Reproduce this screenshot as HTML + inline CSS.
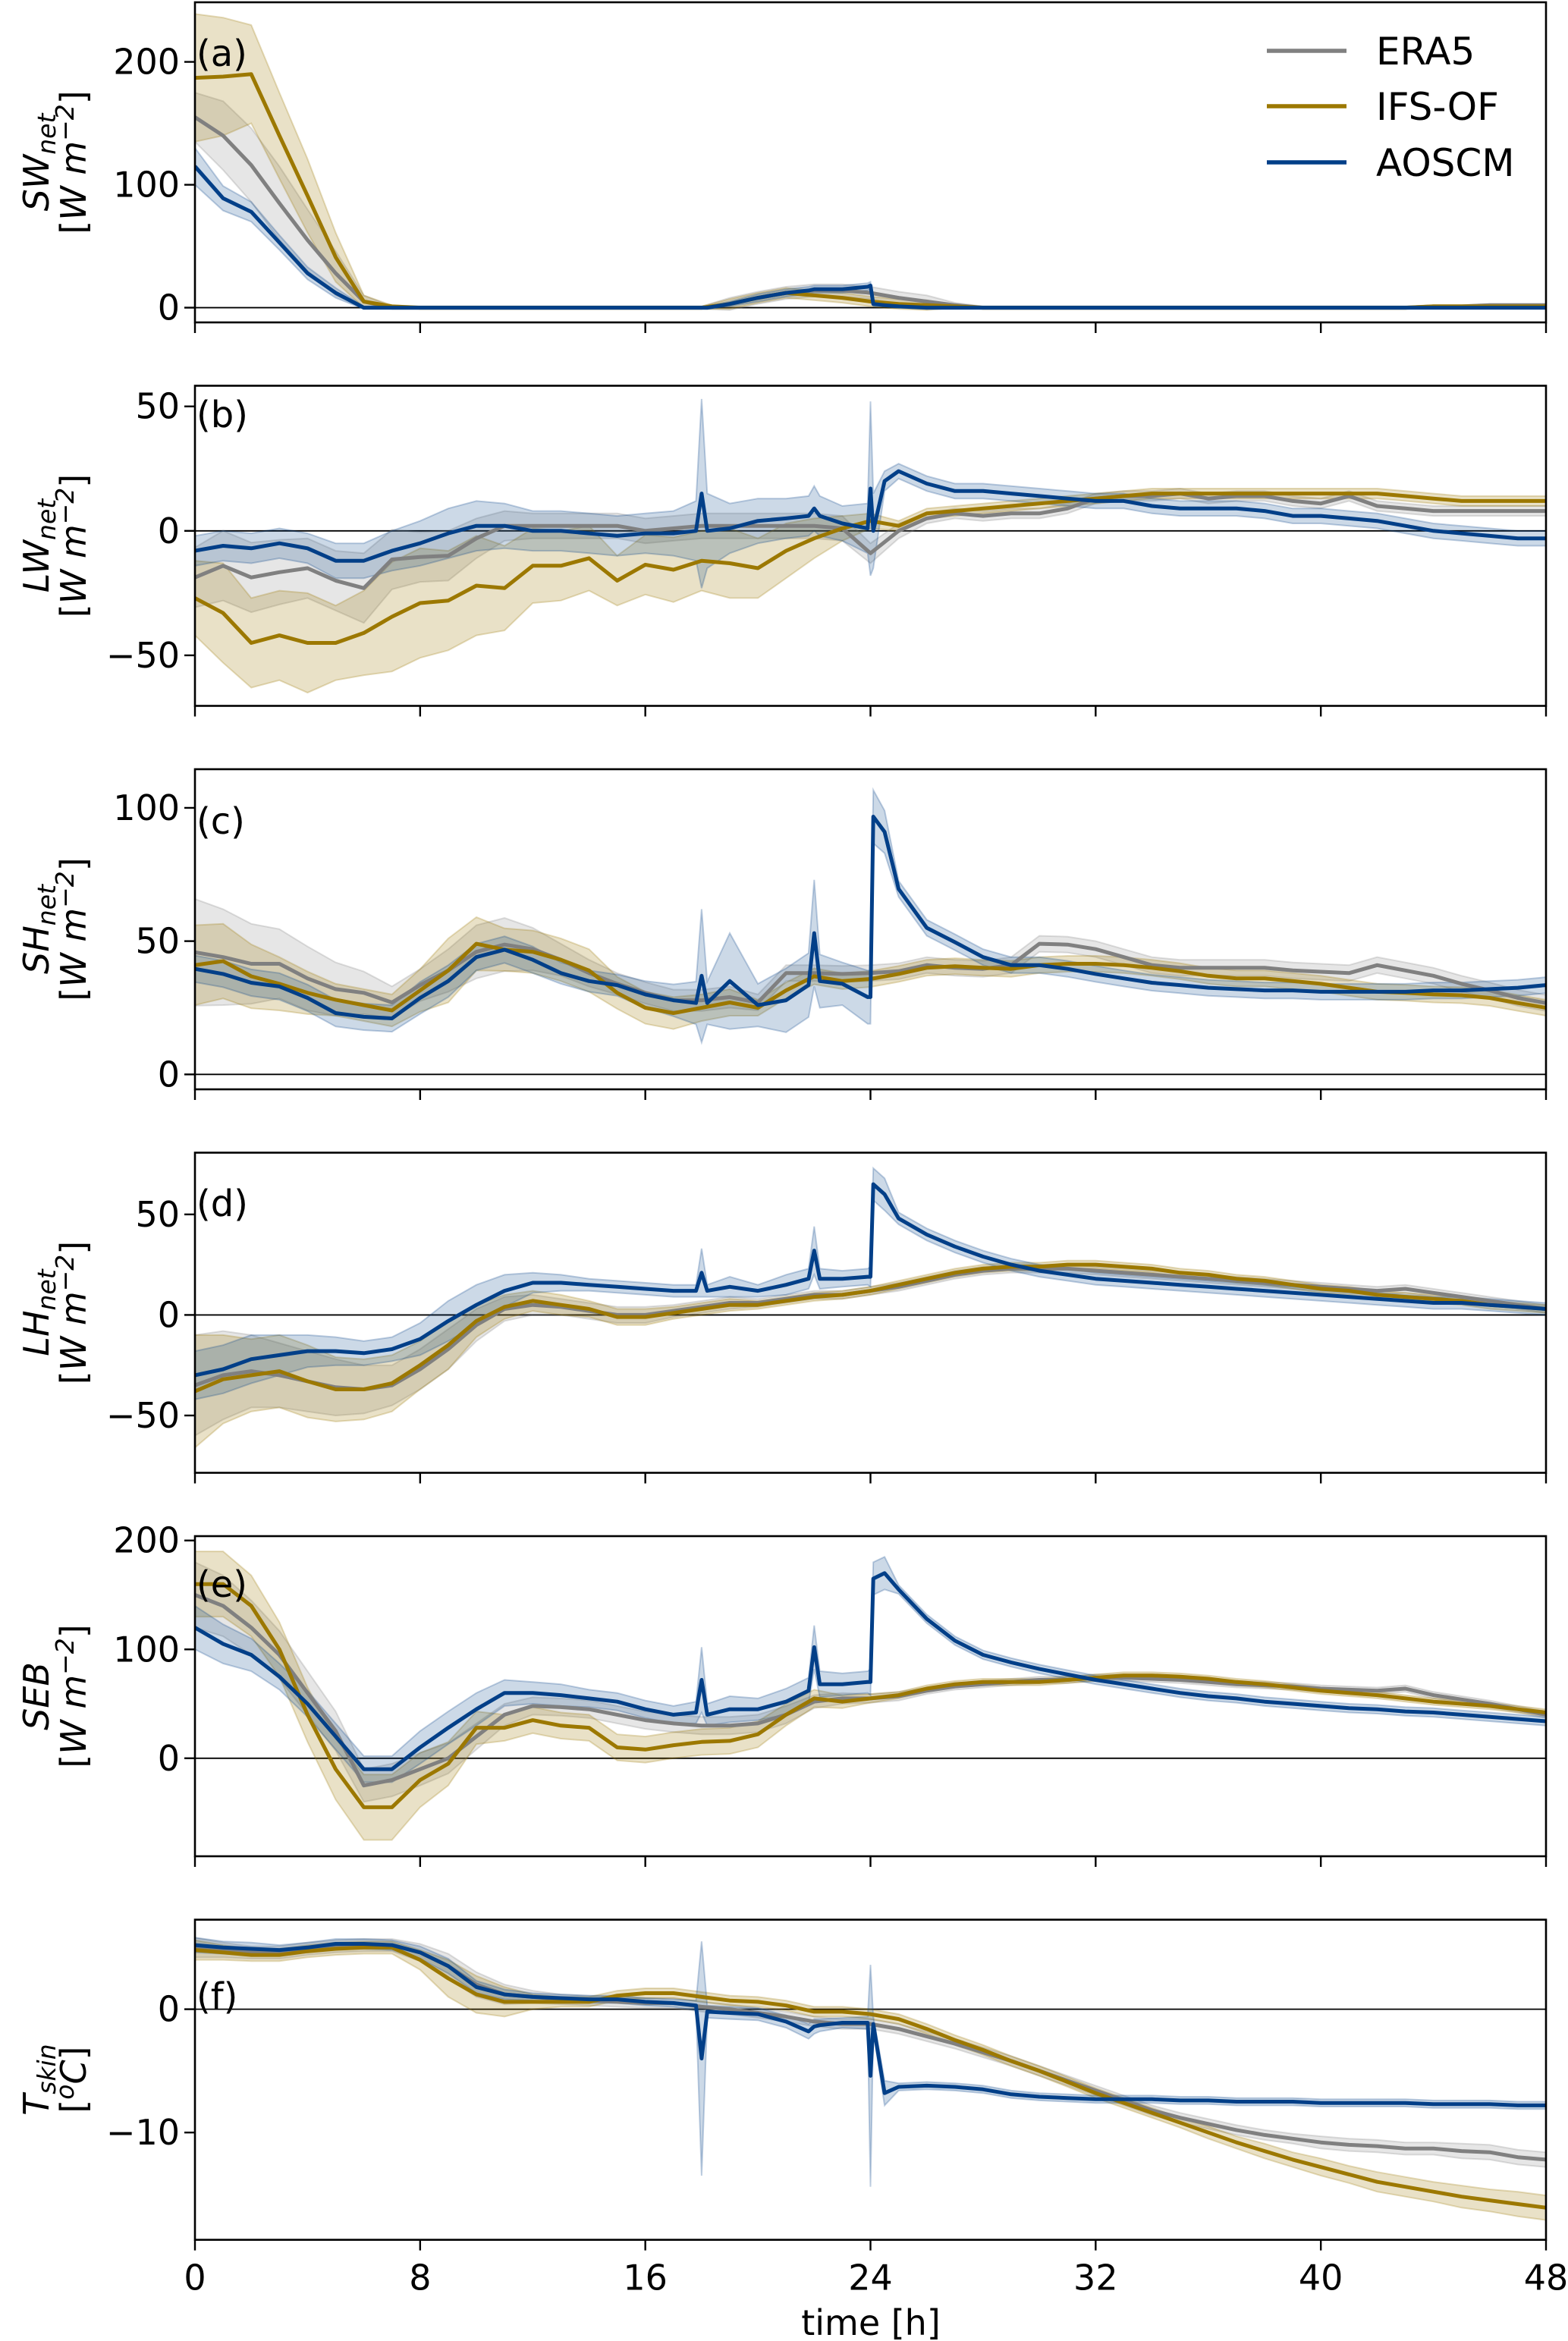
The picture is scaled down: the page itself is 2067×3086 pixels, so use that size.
<!DOCTYPE html>
<html><head><meta charset="utf-8"><style>
html,body{margin:0;padding:0;background:#fff;}
svg{display:block;font-family:"DejaVu Sans","Liberation Sans",sans-serif;}
</style></head><body>
<svg id="chart" width="2067" height="3086" viewBox="0 0 2067 3086" xmlns="http://www.w3.org/2000/svg"></svg>
<script>
const hours=[];for(let i=0;i<=48;i++)hours.push(i);
const aoTimes=[0,1,2,3,4,5,6,7,8,9,10,11,12,13,14,15,16,17,17.8,18,18.2,19,20,21,21.8,22,22.2,23,23.9,24,24.1,24.5,25,26,27,28,29,30,31,32,33,34,35,36,37,38,39,40,41,42,43,44,45,46,47,48];
const xTicks=[0,8,16,24,32,40,48];

// (a) SW
const swERA=[155,140,116,85,55,28,5,0,0,0,0,0,0,0,0,0,0,0,0,3,8,12,14,14,12,8,5,2,0,0,0,0,0,0,0,0,0,0,0,0,0,0,0,0,1,1,2,2,2];
const swERAsd=[20,28,30,30,25,18,5,1,1,1,1,1,1,1,1,1,1,1,1,5,5,5,5,5,5,5,5,2,1,1,1,1,1,1,1,1,1,1,1,1,1,1,1,1,1,1,1,1,1];
const swIFS=[187,188,190,140,91,41,5,1,0,0,0,0,0,0,0,0,0,0,0,3,8,12,10,8,5,3,2,1,0,0,0,0,0,0,0,0,0,0,0,0,0,0,0,0,1,1,1,1,1];
const swIFSsd=[52,48,40,35,30,20,5,1,1,1,1,1,1,1,1,1,1,1,1,4,4,4,4,4,4,4,4,1,1,1,1,1,1,1,1,1,1,1,1,1,1,1,1,1,1,1,1,1,1];
const swAO=[115,89,78,53,28,12,0,0,0,0,0,0,0,0,0,0,0,0,0,0,0,3,8,12,14,15,15,15,17,18,3,2,1,0,0,0,0,0,0,0,0,0,0,0,0,0,0,0,0,0,0,0,0,0,0,0];
const swAOsd=[15,10,8,6,5,4,1,1,1,1,1,1,1,1,1,1,1,1,1,1,1,2,3,3,3,3,3,3,3,3,2,1,1,1,1,1,1,1,1,1,1,1,1,1,1,1,1,1,1,1,1,1,1,1,1,1];
// (b) LW
const lwERA=[-18.7,-14,-18.7,-16.6,-15,-20,-23,-11.5,-10.5,-10,-3,2,2,2,2,2,0,1,2,2,2,2,2,1,-9,0,5,7,6,7,7,9,13,14,14,15,13,14,14,12,11,14,10,9,8,8,8,8,8];
const lwERAsd=[12,14,14,13,12,12,14,12,10,10,8,6,5,5,5,5,5,5,5,5,5,5,5,5,4,3,2,2,2,2,2,2,2,2,2,2,2,2,2,2,2,2,2,2,2,2,2,2,2];
const lwIFS=[-27,-33,-45,-42,-45,-45,-41,-34.5,-29,-28,-22,-23,-14,-14,-11,-20,-13.6,-15.6,-12,-13,-15,-8,-3,1,4,2,7,8,9,10,11,12,13,14,15,15,15,15,15,15,15,15,15,14,13,12,12,12,12];
const lwIFSsd=[15,20,18,18,20,15,17,22,22,20,20,17,15,14,13,10,12,13,12,14,12,11,8,5,3,2,2,2,2,2,2,2,2,2,2,2,2,2,2,2,2,2,2,2,2,2,2,2,2];
const lwAO=[-8,-6,-7,-5,-7,-12,-12,-8,-5,-1,2,2,0,0,-1,-2,-1,-1,0,15,0,1,4,5,6,9,6,3,1,17,0,20,24,19,16,16,15,14,13,12,12,10,9,9,9,8,6,6,5,4,2,0,-1,-2,-3,-3];
const lwAOsd=[6,6,6,6,6,7,7,8,9,10,10,9,8,8,8,8,8,9,12,38,15,10,9,8,8,9,8,7,10,35,15,4,3,3,3,3,3,3,3,3,3,3,3,3,3,3,3,3,3,3,3,3,3,3,3,3];
// (c) SH
const shERA=[45.8,44,41.5,41.5,36,32,30.6,27,33.5,39,46,48.7,47,43,38,34,30.6,27.8,27.8,29,27,38,38,37.7,38,38.7,41,40,39.6,41,49,48.7,47,44,41,40,40,40,40,39,38.5,38,41,39,37,34,31.5,28.7,26.8];
const shERAsd=[20,18,15,13,12,10,8,6,6,8,10,10,8,6,5,4,4,4,4,4,3,3,3,3,3,3,3,3,3,3,3,3,3,3,3,3,3,3,3,3,3,3,3,3,3,3,3,3,3];
const shIFS=[41,42.5,36.8,34,30.6,28,26,24,31.5,39,49,46.8,46,43,39,30.6,25,23,25,27,25,31.5,36.8,35,35.8,37.7,40,40.6,40,39.6,41,41.5,41.5,41,40,38.7,37,36,36,35,34,32.5,31,30.6,30,29.7,28.7,26.8,25];
const shIFSsd=[15,14,12,10,8,6,6,6,8,12,10,8,8,8,8,6,6,6,5,5,3,3,3,3,3,3,3,3,3,3,3,3,3,3,3,3,3,3,3,3,3,3,3,3,3,3,3,3,3];
const shAO=[39.6,37.7,34.4,33,28.7,23,21.6,21,28.7,35,44,46.8,43,38,35,33.5,30,27.8,26.8,37,26.8,35,26,27.8,33.5,53,35,34,29,29,96.7,91,69.6,55,49.6,44,41,41,39.6,37.7,36,34.4,33.5,32.5,32,31.5,31.5,31,31,31,31,31.5,31.5,32,32.5,33.5];
const shAOsd=[5,5,5,5,5,5,5,5,6,6,5,5,5,4,4,4,5,6,8,25,8,18,8,12,12,20,10,8,10,10,10,8,3,3,3,3,3,3,3,3,3,3,3,3,3,3,3,3,3,3,3,3,3,3,3,3];
// (d) LH
const lhERA=[-35,-30,-28,-30,-33,-36,-37,-35,-27,-17,-5,3,5,4,2,0,0,2,4,6,6,8,10,10,12,14,17,20,22,23,23,23,22,21,20,19,18,17,16,15,14,13,12,13,11,9,7,5,3];
const lhERAsd=[25,22,18,16,15,14,12,10,10,10,8,6,5,4,4,4,4,3,3,3,2,2,2,2,2,2,2,2,2,2,2,2,2,2,2,2,2,2,2,2,2,2,2,2,2,2,2,2,2];
const lhIFS=[-38,-32,-30,-28,-33,-37,-37,-34,-25,-15,-3,4,7,5,3,-1,-1,1,3,5,5,7,9,10,12,15,18,21,23,24,24,25,25,24,23,21,20,18,17,15,13,12,10,9,8,7,5,4,3];
const lhIFSsd=[28,22,18,18,18,16,15,14,12,12,8,6,5,5,4,4,4,3,3,3,2,2,2,2,2,2,2,2,2,2,2,2,2,2,2,2,2,2,2,2,2,2,2,2,2,2,2,2,2];
const lhAO=[-30,-27,-22,-20,-18,-18,-19,-17,-12,-3,5,12,16,16,15,14,13,12,12,21,12,14,12,15,18,32,18,18,19,19,65,60,48,40,34,29,25,22,20,18,17,16,15,14,13,12,11,10,9,8,7,6,6,5,4,3];
const lhAOsd=[12,12,12,10,8,7,6,6,8,10,10,8,5,4,3,3,3,3,3,12,3,5,3,5,5,12,5,4,4,5,8,8,3,3,3,3,3,3,3,3,3,3,3,3,3,3,3,3,3,3,3,3,3,3,3,3];
// (e) SEB
const sebERA=[150,140,120,95,60,25,-25,-20,-10,0,20,40,48,47,45,40,35,32,30,30,32,40,52,55,55,57,62,66,68,70,72,72,74,74,73,72,70,68,67,66,64,63,62,64,58,54,50,45,40];
const sebERAsd=[30,28,25,22,20,18,15,15,15,14,12,10,8,8,8,8,8,8,8,8,8,8,6,5,4,4,3,3,3,3,3,3,3,3,3,3,3,3,3,3,3,3,3,3,3,3,3,3,3];
const sebIFS=[160,160,140,100,40,-10,-45,-45,-20,-5,28,28,35,30,28,10,8,12,15,16,22,40,55,52,55,58,64,68,70,70,70,72,74,76,76,75,73,70,68,65,62,60,58,55,52,50,48,45,42];
const sebIFSsd=[30,30,28,25,25,28,30,30,25,20,15,12,12,12,12,12,12,12,12,12,12,10,8,6,4,3,3,3,3,3,3,3,3,3,3,3,3,3,3,3,3,3,3,3,3,3,3,3,3];
const sebAO=[120,105,95,75,50,20,-10,-10,10,28,45,60,60,58,55,52,45,40,42,72,40,45,45,52,62,102,68,68,70,70,165,170,155,128,108,95,88,82,77,72,68,64,60,57,55,52,50,48,46,45,43,42,40,38,36,34];
const sebAOsd=[20,18,15,12,12,12,12,12,15,15,15,12,10,10,8,8,8,8,10,30,10,12,10,12,12,20,12,10,10,12,15,15,4,4,4,4,4,4,4,4,4,4,4,4,4,4,4,4,4,4,4,4,4,4,4,4];
// (f) Tskin
const tsERA=[5.0,4.8,4.6,4.6,4.9,5.1,5.2,5.2,4.6,3.5,2.0,1.2,1.0,0.8,0.7,0.6,0.5,0.5,0.2,0.0,-0.3,-0.6,-1.0,-1.2,-1.2,-1.6,-2.2,-2.8,-3.5,-4.2,-5.0,-5.8,-6.6,-7.4,-8.2,-8.8,-9.3,-9.8,-10.2,-10.5,-10.8,-11.0,-11.1,-11.3,-11.3,-11.5,-11.6,-12.0,-12.2];
const tsERAsd=[0.8,0.6,0.5,0.5,0.5,0.5,0.5,0.5,0.7,1.0,1.0,0.8,0.5,0.4,0.4,0.4,0.4,0.4,0.4,0.4,0.4,0.4,0.4,0.4,0.4,0.4,0.4,0.4,0.4,0.4,0.4,0.4,0.4,0.4,0.4,0.4,0.4,0.4,0.4,0.4,0.5,0.5,0.5,0.5,0.5,0.6,0.6,0.6,0.6];
const tsIFS=[4.8,4.6,4.4,4.4,4.7,4.9,5.0,5.0,4.0,2.5,1.2,0.6,0.6,0.6,0.6,1.1,1.3,1.3,1.0,0.7,0.6,0.3,-0.2,-0.2,-0.4,-0.8,-1.6,-2.5,-3.3,-4.2,-5.0,-5.9,-6.8,-7.6,-8.4,-9.2,-10.0,-10.8,-11.5,-12.2,-12.8,-13.4,-14.0,-14.4,-14.8,-15.2,-15.5,-15.8,-16.1];
const tsIFSsd=[0.8,0.6,0.5,0.5,0.5,0.5,0.5,0.5,0.8,1.5,1.5,1.2,0.6,0.4,0.4,0.4,0.4,0.4,0.4,0.4,0.4,0.4,0.4,0.4,0.4,0.4,0.4,0.4,0.4,0.4,0.4,0.4,0.4,0.4,0.4,0.4,0.5,0.5,0.6,0.6,0.7,0.7,0.8,0.8,0.8,0.9,0.9,1.0,1.0];
const tsAO=[5.2,5.0,4.9,4.8,5.0,5.3,5.3,5.2,4.6,3.5,1.8,1.2,1.0,0.9,0.8,0.8,0.6,0.5,0.3,-4.0,-0.2,-0.3,-0.4,-1.0,-1.8,-1.4,-1.3,-1.1,-1.1,-5.4,-1.2,-6.8,-6.3,-6.2,-6.3,-6.5,-6.9,-7.1,-7.2,-7.3,-7.3,-7.3,-7.4,-7.4,-7.5,-7.5,-7.5,-7.6,-7.6,-7.6,-7.6,-7.7,-7.7,-7.7,-7.8,-7.8];
const tsAOsd=[0.6,0.5,0.5,0.4,0.4,0.4,0.4,0.4,0.5,0.6,0.5,0.4,0.3,0.3,0.3,0.3,0.3,0.3,0.4,9.5,0.5,0.5,0.5,0.5,0.6,0.6,0.5,0.4,0.5,9.0,0.6,1.0,0.3,0.3,0.3,0.3,0.3,0.3,0.3,0.3,0.3,0.3,0.3,0.3,0.3,0.3,0.3,0.3,0.3,0.3,0.3,0.3,0.3,0.3,0.3,0.3];

const panels=[
 {key:'sw',label:'(a)',v1:'SW',s1:'net',top:3,ymin:-12,ymax:248.5,ticks:[0,100,200],era:swERA,eraSd:swERAsd,ifs:swIFS,ifsSd:swIFSsd,ao:swAO,aoSd:swAOsd,ly:69,unit:'W'},
 {key:'lw',label:'(b)',v1:'LW',s1:'net',top:508.5,ymin:-70.3,ymax:58.3,ticks:[-50,0,50],era:lwERA,eraSd:lwERAsd,ifs:lwIFS,ifsSd:lwIFSsd,ao:lwAO,aoSd:lwAOsd,ly:545,unit:'W'},
 {key:'sh',label:'(c)',v1:'SH',s1:'net',top:1014,ymin:-5.6,ymax:114.5,ticks:[0,50,100],era:shERA,eraSd:shERAsd,ifs:shIFS,ifsSd:shIFSsd,ao:shAO,aoSd:shAOsd,ly:1081,unit:'W'},
 {key:'lh',label:'(d)',v1:'LH',s1:'net',top:1519.5,ymin:-78.5,ymax:80.7,ticks:[-50,0,50],era:lhERA,eraSd:lhERAsd,ifs:lhIFS,ifsSd:lhIFSsd,ao:lhAO,aoSd:lhAOsd,ly:1585,unit:'W'},
 {key:'seb',label:'(e)',v1:'SEB',s1:'',top:2025,ymin:-90,ymax:204,ticks:[0,100,200],era:sebERA,eraSd:sebERAsd,ifs:sebIFS,ifsSd:sebIFSsd,ao:sebAO,aoSd:sebAOsd,ly:2087,unit:'W'},
 {key:'tskin',label:'(f)',v1:'T',s1:'skin',top:2530.6,ymin:-18.7,ymax:7.26,ticks:[-10,0],era:tsERA,eraSd:tsERAsd,ifs:tsIFS,ifsSd:tsIFSsd,ao:tsAO,aoSd:tsAOsd,ly:2630,unit:'C'}
];

const NS='http://www.w3.org/2000/svg';
const svg=document.getElementById('chart');
const X0=257,X1=2038,H=422;
function xs(t){return X0+(t/48)*(X1-X0);}
function mk(tag,attrs,parent){const e=document.createElementNS(NS,tag);for(const k in attrs)e.setAttribute(k,attrs[k]);(parent||svg).appendChild(e);return e;}
const colERA='#808080',colIFS='#9c7800',colAO='#023f88';

panels.forEach((p,pi)=>{
  const g=mk('g',{});
  
  
  const ys=v=>p.top+H-(v-p.ymin)/(p.ymax-p.ymin)*H;
  const clipId='clip'+pi;
  const cp=mk('clipPath',{id:clipId},g);mk('rect',{x:X0,y:p.top,width:X1-X0,height:H},cp);
  const plot=mk('g',{'clip-path':'url(#'+clipId+')'},g);
  const zl=mk('line',{x1:X0,x2:X1,y1:ys(0),y2:ys(0),stroke:'#000','stroke-width':1.8},plot);
  
  
  const series=[
    {n:'era5',t:hours,v:p.era,sd:p.eraSd,c:colERA,op:0.2},
    {n:'ifs-of',t:hours,v:p.ifs,sd:p.ifsSd,c:colIFS,op:0.22},
    {n:'aoscm',t:aoTimes,v:p.ao,sd:p.aoSd,c:colAO,op:0.2}
  ];
  series.forEach(s=>{
    let up=[],dn=[];
    s.t.forEach((t,i)=>{up.push(xs(t).toFixed(1)+','+ys(s.v[i]+s.sd[i]).toFixed(1));dn.unshift(xs(t).toFixed(1)+','+ys(s.v[i]-s.sd[i]).toFixed(1));});
    const band=mk('polygon',{points:up.concat(dn).join(' '),fill:s.c,'fill-opacity':s.op,stroke:s.c,'stroke-opacity':0.25,'stroke-width':2},plot);
    
    
  });
  series.forEach(s=>{
    const pts=s.t.map((t,i)=>xs(t).toFixed(1)+','+ys(s.v[i]).toFixed(1)).join(' ');
    const ln=mk('polyline',{points:pts,fill:'none',stroke:s.c,'stroke-width':5,'stroke-linejoin':'round'},plot);
    
    
  });
  const fr=mk('rect',{x:X0,y:p.top,width:X1-X0,height:H,fill:'none',stroke:'#000','stroke-width':2.6},g);
  
  
  xTicks.forEach(t=>{
    const tk=mk('line',{x1:xs(t),x2:xs(t),y1:p.top+H,y2:p.top+H+14,stroke:'#000','stroke-width':2.4},g);
    
    
    if(pi===5){
      const tl=mk('text',{x:xs(t),y:p.top+H+66,'font-size':46,'text-anchor':'middle'},g);
      tl.textContent=String(t);
      
      
    }
  });
  p.ticks.forEach(v=>{
    const tk=mk('line',{x1:X0-14,x2:X0,y1:ys(v),y2:ys(v),stroke:'#000','stroke-width':2.4},g);
    
    
    const tl=mk('text',{x:X0-20,y:ys(v)+16,'font-size':46,'text-anchor':'end'},g);
    tl.textContent=(v<0?'\u2212':'')+Math.abs(v);
    
    
  });
  const pl=mk('text',{x:X0+2,y:p.ly+18,'font-size':48},g);
  pl.textContent=p.label;
  
  
  const cy=p.top+H/2;
  const yl=mk('text',{transform:'translate(64,'+cy+') rotate(-90)','font-size':46,'text-anchor':'middle','font-style':'italic'},g);
  
  
  const t1=mk('tspan',{},yl);t1.textContent=p.v1;
  if(p.s1){const t2=mk('tspan',{'font-size':33,dy:9},yl);t2.textContent=p.s1;}
  const yl2=mk('text',{transform:'translate(113,'+cy+') rotate(-90)','font-size':46,'text-anchor':'middle','font-style':'italic'},g);
  
  
  if(p.unit==='W'){
    const a=mk('tspan',{'font-style':'normal'},yl2);a.textContent='[';
    const b=mk('tspan',{},yl2);b.textContent='W m';
    const c=mk('tspan',{'font-size':33,dy:-16},yl2);c.textContent='\u22122';
    const d=mk('tspan',{'font-style':'normal',dy:16},yl2);d.textContent=']';
  } else {
    const a=mk('tspan',{'font-style':'normal'},yl2);a.textContent='[';
    const c=mk('tspan',{'font-size':33,dy:-16},yl2);c.textContent='o';
    const b=mk('tspan',{dy:16},yl2);b.textContent='C';
    const d=mk('tspan',{'font-style':'normal'},yl2);d.textContent=']';
  }
});

const xt=mk('text',{x:1148,y:3078,'font-size':46,'text-anchor':'middle'});
xt.textContent='time [h]';



const legNames=['ERA5','IFS-OF','AOSCM'];
const legCols=[colERA,colIFS,colAO];
const legY=[67,140,214];
const lg=mk('g',{});


legNames.forEach((n,i)=>{
  const l=mk('line',{x1:1670,x2:1775,y1:legY[i],y2:legY[i],stroke:legCols[i],'stroke-width':5.5},lg);
  
  
  const t=mk('text',{x:1814,y:legY[i]+18,'font-size':50},lg);
  t.textContent=n;
  
  
});
</script>
</body></html>
